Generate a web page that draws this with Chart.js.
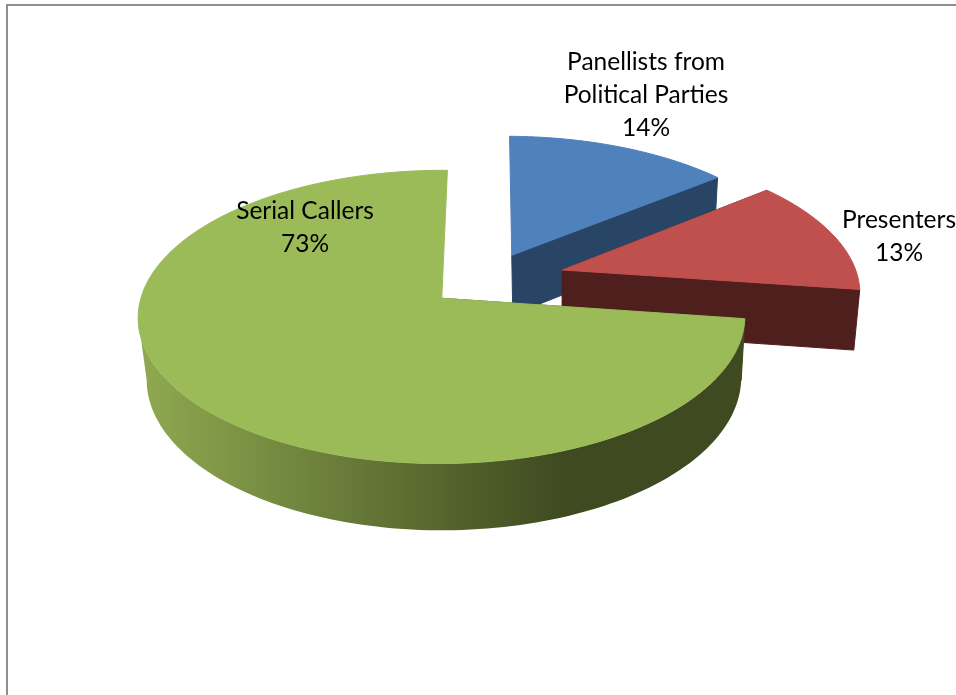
<!DOCTYPE html>
<html>
<head>
<meta charset="utf-8">
<title>Share of airtime</title>
<script src="https://cdn.jsdelivr.net/npm/chart.js@4"></script>
<style>
    html, body { margin: 0; padding: 0; background: #fff; overflow: hidden; }
    #frame { position: absolute; left: 6px; top: 4px; width: 950px; height: 691px;
             border-left: 2px solid #8e8e8e; border-top: 2px solid #8e8e8e; }
    #pie { position: absolute; left: 0; top: 0; }
</style>
</head>
<body>
<div id="frame"></div>
<canvas id="pie" width="956" height="695"></canvas>
<script>
const categories = ['Panellists from Political Parties', 'Presenters', 'Serial Callers'];
const shares = [14, 13, 73];
const topColors = ['#4f81bd', '#c0504d', '#9bbb59'];
const sideColors = ['#284566', '#4f1f1e', '#3f4a20'];
const explode = [0.2, 0.267, 0.2];
const labelLines = [['Panellists from', 'Political Parties'], ['Presenters'], ['Serial Callers']];

// Tilted-plane projection for the top faces, radius-units in, pixels out
const view = { cx: 487, cy: 279.8, rx: 296, ry: 139.6, k: 0.125, shear: 0.012 };

function project(X, Y) {
    const s = 1 / (1 - view.k * Y);
    return [view.cx + view.rx * (X + view.shear * Y) * s, view.cy + view.ry * Y * s];
}

// The bottom face sits lower and slightly narrower than the top one
function drop(p) {
    return [563 + (p[0] - 563) * 0.98, p[1] + 60 + 0.035 * (p[1] - 270)];
}

function outline(arc, index) {
    const mid = (arc.startAngle + arc.endAngle) / 2;
    const ox = Math.cos(mid) * explode[index];
    const oy = Math.sin(mid) * explode[index];
    const rim = [];
    const steps = Math.ceil((arc.endAngle - arc.startAngle) * 40);
    for (let i = 0; i <= steps; i++) {
        const a = arc.startAngle + (arc.endAngle - arc.startAngle) * i / steps;
        rim.push(project(ox + Math.cos(a), oy + Math.sin(a)));
    }
    return { apex: project(ox, oy), rim };
}

function sideFill(ctx, index) {
    if (index !== 2) return sideColors[index];
    const grad = ctx.createLinearGradient(140, 0, 745, 0);
    grad.addColorStop(0, '#8fa950');
    grad.addColorStop(0.7, sideColors[2]);
    grad.addColorStop(1, sideColors[2]);
    return grad;
}

function trace(ctx, points) {
    ctx.beginPath();
    points.forEach((p, i) => i ? ctx.lineTo(p[0], p[1]) : ctx.moveTo(p[0], p[1]));
    ctx.closePath();
}

function drawCutWall(ctx, from, to) {
    // nearly edge-on walls stay hidden
    if (Math.abs(from[0] - to[0]) < 12) return;
    trace(ctx, [from, to, drop(to), drop(from)]);
    ctx.fill();
    ctx.stroke();
}

// Only the part of the rim running right to left faces the viewer.
// All of it goes in one path so the strips leave no seams.
function drawRimWall(ctx, rim) {
    ctx.beginPath();
    for (let i = 0; i < rim.length - 1; i++) {
        const p = rim[i];
        const q = rim[i + 1];
        if (q[0] >= p[0]) continue;
        const a = drop(p);
        const b = drop(q);
        ctx.moveTo(p[0], p[1]);
        ctx.lineTo(a[0], a[1]);
        ctx.lineTo(b[0], b[1]);
        ctx.lineTo(q[0], q[1]);
        ctx.closePath();
    }
    ctx.fill();
}

const solidPie = {
    id: 'solidPie',
    // replaces the flat arcs with extruded ones built from the same arc elements
    beforeDatasetsDraw(chart) {
        const ctx = chart.ctx;
        const arcs = chart.getDatasetMeta(0).data;
        arcs.forEach((arc, index) => {
            const { apex, rim } = outline(arc, index);
            const fill = sideFill(ctx, index);
            ctx.save();
            ctx.fillStyle = fill;
            ctx.strokeStyle = fill;
            ctx.lineWidth = 1;
            drawCutWall(ctx, apex, rim[0]);
            drawCutWall(ctx, rim[rim.length - 1], apex);
            drawRimWall(ctx, rim);

            trace(ctx, [apex].concat(rim));
            ctx.fillStyle = topColors[index];
            ctx.strokeStyle = topColors[index];
            ctx.fill();
            ctx.stroke();
            ctx.restore();
        });
        return false;
    },
    afterDraw(chart) {
        const ctx = chart.ctx;
        const spots = chart.options.plugins.solidPie.labelSpots;
        const total = shares.reduce((a, b) => a + b, 0);
        ctx.save();
        ctx.font = '24.5px Lato';
        ctx.fillStyle = '#000';
        ctx.textAlign = 'center';
        ctx.textBaseline = 'middle';
        labelLines.forEach((lines, index) => {
            const rows = lines.concat(Math.round(shares[index] / total * 100) + '%');
            rows.forEach((row, r) => {
                ctx.fillText(row, spots[index][0], spots[index][1] + r * 33);
            });
        });
        ctx.restore();
    }
};

new Chart(document.getElementById('pie').getContext('2d'), {
    type: 'pie',
    data: {
        labels: categories,
        datasets: [{ data: shares, backgroundColor: topColors }]
    },
    options: {
        responsive: false,
        animation: false,
        rotation: 0.8,
        plugins: {
            legend: { display: false },
            tooltip: { enabled: false },
            solidPie: { labelSpots: [[646, 62], [899, 220], [305, 211]] }
        }
    },
    plugins: [solidPie]
});
</script>
</body>
</html>
